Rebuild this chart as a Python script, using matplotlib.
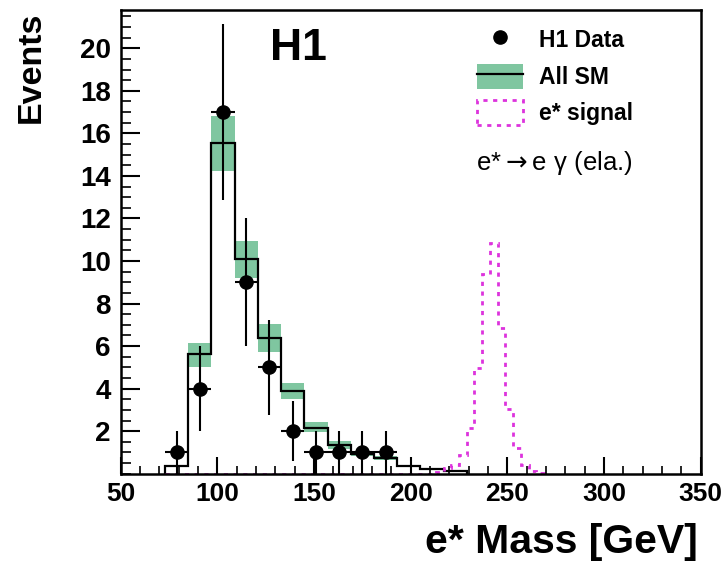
import numpy as np
import matplotlib
matplotlib.use("Agg")
import matplotlib.pyplot as plt
from matplotlib.lines import Line2D
from matplotlib.patches import Patch
from matplotlib.ticker import MultipleLocator, FixedLocator

plt.rcParams['font.family'] = ['Liberation Sans', 'DejaVu Sans']

# ---- data ----
sm_edges = [73, 85, 97, 109, 121, 133, 145, 157, 169, 181, 193, 205, 217, 229]
sm_vals = [0.35, 5.62, 15.54, 10.11, 6.4, 3.9, 2.16, 1.35, 0.92, 0.74, 0.38, 0.2, 0.14]
sm_lo = [0.30, 5.00, 14.22, 9.22, 5.73, 3.49, 1.97, 1.15, 0.82, 0.65, 0.33, 0.17, 0.12]
sm_hi = [0.40, 6.15, 16.84, 10.94, 7.03, 4.27, 2.44, 1.55, 1.02, 0.83, 0.43, 0.23, 0.16]

data_x = [79, 91, 103, 115, 127, 139, 151, 163, 175, 187]
data_y = [1, 4, 17, 9, 5, 2, 1, 1, 1, 1]
data_err = [1.0, 2.0, 4.12, 3.0, 2.24, 1.41, 1.0, 1.0, 1.0, 1.0]
data_xerr = [6] * 10

sig_edges = list(range(73, 270, 4))
sig_vals = [0.0] * 35 + [0.1, 0.25, 0.42, 0.9, 2.16, 4.95, 9.38, 10.86,
                         6.87, 3.02, 1.19, 0.41, 0.14, 0.05]

xticks = [50, 100, 150, 200, 250, 300, 350]
yticks = [2, 4, 6, 8, 10, 12, 14, 16, 18, 20]

green = '#7fc6a0'
magenta = '#dd33dd'
dots = (0, (1.5, 2.0))

# ---- figure ----
fig = plt.figure(figsize=(7.27, 5.62), dpi=100)
ax = fig.add_axes([0.1659, 0.1571, 0.7979, 0.8251])

ax.stairs(sm_hi, sm_edges, baseline=sm_lo, fill=True, color=green, lw=0)
ax.stairs(sm_vals, sm_edges, color='black', lw=1.6)
ax.stairs(sig_vals, sig_edges, color=magenta, lw=2.0, linestyle=dots)
ax.errorbar(data_x, data_y, yerr=data_err, xerr=data_xerr, fmt='o', color='black',
            markersize=9.5, elinewidth=1.5, capsize=0, zorder=5)

ax.set_xlim(50, 350)
ax.set_ylim(0, 21.8)
ax.xaxis.set_major_locator(FixedLocator(xticks))
ax.xaxis.set_minor_locator(MultipleLocator(10))
ax.yaxis.set_major_locator(FixedLocator(yticks))
ax.yaxis.set_minor_locator(MultipleLocator(0.5))

for s in ax.spines.values():
    s.set_linewidth(1.8)
ax.tick_params(axis='y', which='major', direction='in', length=14, width=1.5,
               pad=7, labelsize=20)
ax.tick_params(axis='y', which='minor', direction='in', length=7, width=1.2)
ax.tick_params(axis='x', which='major', direction='in', length=12, width=1.5,
               pad=6, labelsize=19)
ax.tick_params(axis='x', which='minor', direction='in', length=6, width=1.2)
for lab in ax.get_xticklabels() + ax.get_yticklabels():
    lab.set_fontweight('bold')

# legend
h_data = Line2D([], [], marker='o', color='black', linestyle='none', markersize=9.5)
h_sm = (Patch(facecolor=green, edgecolor='none'), Line2D([], [], color='black', lw=1.6))
h_sig = Patch(facecolor='none', edgecolor=magenta, lw=2.0, linestyle=dots)
leg = fig.legend([h_data, h_sm, h_sig], ['H1 Data', 'All SM', 'e* signal'],
                 loc='upper left', bbox_to_anchor=(0.656, 0.952), frameon=False,
                 borderpad=0, borderaxespad=0, handlelength=2.0, handleheight=1.3,
                 handletextpad=0.7, labelspacing=0.5,
                 prop={'weight': 'bold', 'size': 16.5})

fig.text(476 / 727, 1 - 163 / 562, 'e*$\\rightarrow$e \u03b3 (ela.)',
         fontsize=18.5, ha='left', va='center')
fig.text(270 / 727, 1 - 49 / 562, 'H1', fontsize=32, fontweight='bold',
         ha='left', va='center')
fig.text(31 / 727, 1 - 12 / 562, 'Events', fontsize=24.5, fontweight='bold',
         rotation=90, ha='center', va='top')
fig.text(698 / 727, 1 - 542 / 562, 'e* Mass [GeV]', fontsize=29.5, fontweight='bold',
         ha='right', va='center')

fig.savefig('out.png', dpi=100)
